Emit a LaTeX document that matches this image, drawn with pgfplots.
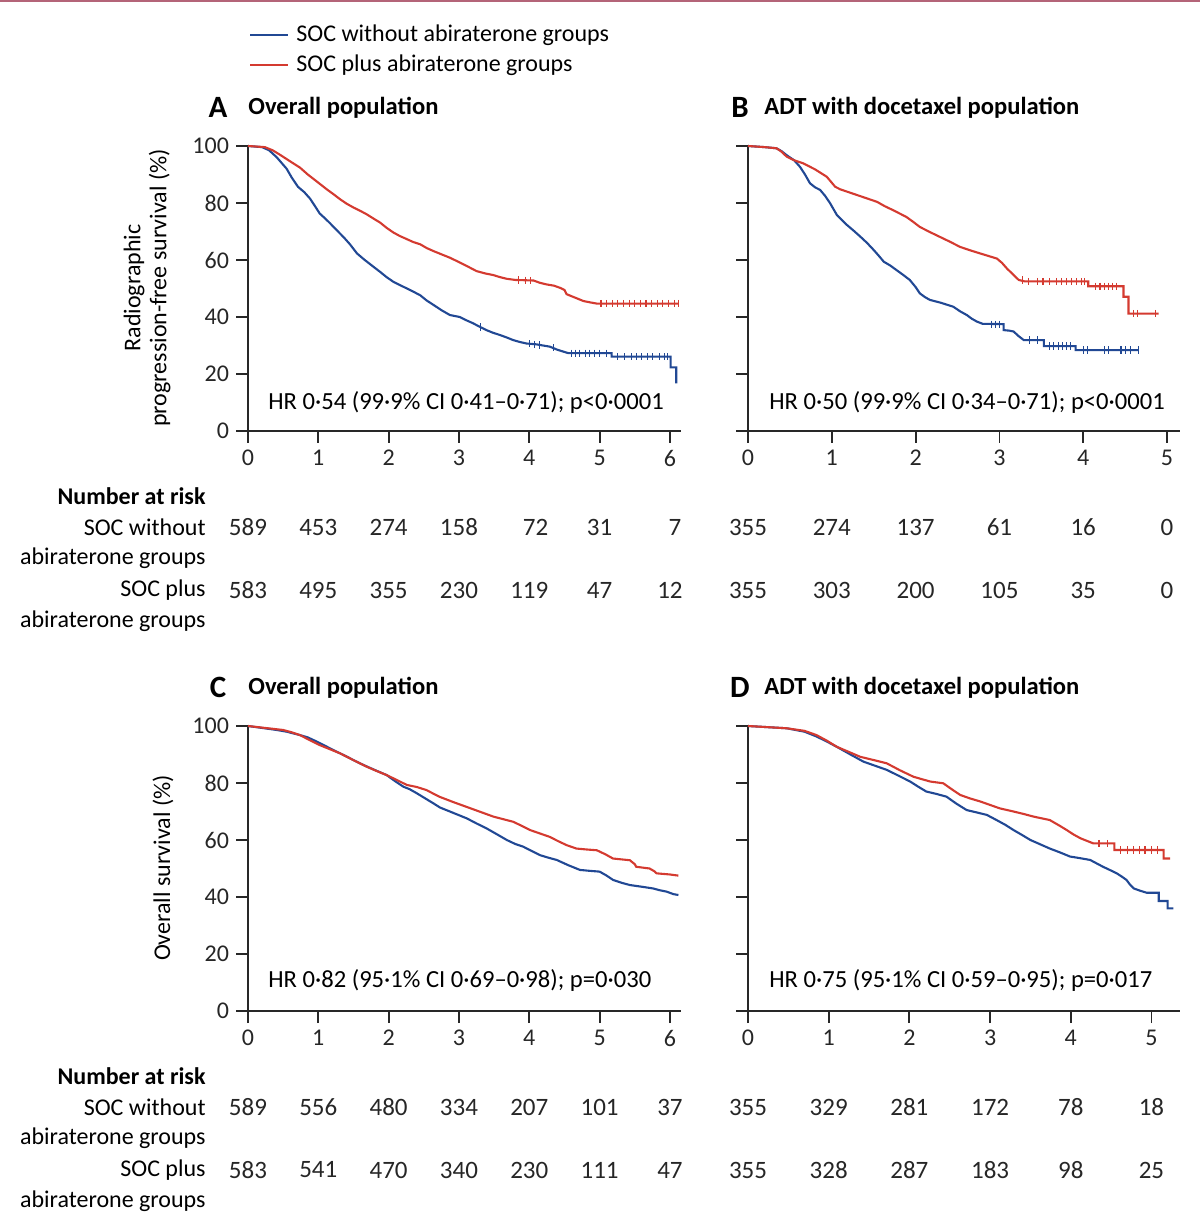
\documentclass[border=0pt]{standalone}
\usepackage{fontspec}
\setmainfont{Carlito}
\usepackage{pgfplots}
\pgfplotsset{compat=1.18}
\definecolor{kmblue}{RGB}{33,72,148}
\definecolor{kmred}{RGB}{212,58,48}
\definecolor{axc}{RGB}{40,40,40}
\definecolor{hdr}{RGB}{180,100,120}
\newcommand{\fs}{\fontsize{12}{14}\selectfont}
\newcommand{\fh}{\fontsize{12.3}{14}\selectfont}
\newcommand{\fr}{\fontsize{12.5}{14}\selectfont}
\newcommand{\fl}{\fontsize{12}{14}\selectfont}
\newcommand{\ft}{\fontsize{12.3}{14}\selectfont\bfseries}
\newcommand{\fL}{\fontsize{15.5}{17}\selectfont\bfseries}
\tikzset{rk/.style={font=\fr, text=black!85}}
\pgfplotsset{
 km/.style={scale only axis, height=142.5pt, anchor=south west, clip=false,
  axis x line*=bottom, axis y line*=left, ymin=0, ymax=100, ytick={0,20,40,60,80,100}, xmin=0,
  tick align=outside, major tick length=6pt,
  every tick/.append style={line width=0.9pt, axc},
  axis line style={line width=0.9pt, axc},
  tick label style={font=\fs, text=black!85},
  /pgf/number format/assume math mode=true,
  },
 bl/.style={kmblue, line width=1.05pt, no markers},
 rd/.style={kmred, line width=1.05pt, no markers},
 cb/.style={kmblue, only marks, mark=|, mark size=1.8pt, mark options={line width=0.55pt}},
 cr/.style={kmred, only marks, mark=|, mark size=1.8pt, mark options={line width=0.55pt}},
}
\begin{document}
\begin{tikzpicture}
\useasboundingbox (0,0) rectangle (600pt,613pt);
\draw[hdr, line width=1pt] (0,612.6pt) -- (600pt,612.6pt);
% legend
\draw[kmblue, line width=0.9pt] (125pt,595.5pt) -- (144pt,595.5pt);
\node[anchor=west, font=\fs, inner sep=0pt] at (148pt,595.5pt) {SOC without abiraterone groups};
\draw[kmred, line width=0.9pt] (125pt,580.5pt) -- (144pt,580.5pt);
\node[anchor=west, font=\fs, inner sep=0pt] at (148pt,580.5pt) {SOC plus abiraterone groups};
% titles
\node[font=\fL] at (109pt,559.5pt) {A};
\node[anchor=west, inner sep=0pt, font=\ft] at (124pt,559pt) {Overall population};
\node[font=\fL] at (370pt,559.5pt) {B};
\node[anchor=west, inner sep=0pt, font=\ft] at (382pt,559pt) {ADT with docetaxel population};
\node[font=\fL] at (109pt,269.5pt) {C};
\node[anchor=west, inner sep=0pt, font=\ft] at (124pt,269pt) {Overall population};
\node[font=\fL] at (370pt,269.5pt) {D};
\node[anchor=west, inner sep=0pt, font=\ft] at (382pt,269pt) {ADT with docetaxel population};
% y labels
\node[rotate=90, align=center, font=\fontsize{12}{13}\selectfont] at (73.5pt,469pt) {Radiographic\\progression-free survival (\%)};
\node[rotate=90, font=\fs] at (81.5pt,179pt) {Overall survival (\%)};
% number at risk labels
\foreach \yy in {0,290}{
 \node[anchor=east, inner sep=0pt, font=\fl\bfseries] at (103pt,365pt-\yy pt) {Number at risk};
 \node[anchor=east, inner sep=0pt, font=\fl] at (103pt,349.5pt-\yy pt) {SOC without};
 \node[anchor=east, inner sep=0pt, font=\fl] at (103pt,334pt-\yy pt) {abiraterone groups};
 \node[anchor=east, inner sep=0pt, font=\fl] at (103pt,318pt-\yy pt) {SOC plus};
 \node[anchor=east, inner sep=0pt, font=\fl] at (103pt,302.5pt-\yy pt) {abiraterone groups};
}
% HR texts
\node[anchor=west, inner sep=0pt, font=\fh] at (134pt,412pt) {HR 0·54 (99·9\% CI 0·41–0·71); p<0·0001};
\node[anchor=west, inner sep=0pt, font=\fh] at (384.5pt,412pt) {HR 0·50 (99·9\% CI 0·34–0·71); p<0·0001};
\node[anchor=west, inner sep=0pt, font=\fh] at (134pt,123pt) {HR 0·82 (95·1\% CI 0·69–0·98); p=0·030};
\node[anchor=west, inner sep=0pt, font=\fh] at (384.5pt,123pt) {HR 0·75 (95·1\% CI 0·59–0·95); p=0·017};

% ---------------- Panel A
\begin{axis}[km, at={(124pt,397.5pt)}, width=216.25pt, xmax=6.15, xtick={0,...,6}]
\addplot[bl] table {
0 100
0.20 99.6
0.30 98.5
0.41 96
0.48 94
0.55 92
0.62 89
0.71 85.7
0.80 83.8
0.88 81.6
0.95 79
1.02 76.3
1.10 74.5
1.17 72.8
1.26 70.5
1.36 68
1.45 65.5
1.55 62.3
1.66 60
1.78 57.7
1.88 55.8
1.97 54
2.07 52.3
2.16 51.2
2.26 50
2.35 48.9
2.45 47.6
2.54 45.8
2.64 44.2
2.75 42.4
2.87 40.7
3.01 40
3.10 38.9
3.20 37.8
3.30 36.5
3.39 35.4
3.48 34.5
3.58 33.7
3.68 32.8
3.77 31.9
3.87 31.2
3.96 30.7
4.10 30.4
4.29 29.6
4.40 28.5
4.53 27.5
4.56 27.3
5.17 27.3
5.17 26.1
6.01 26.1
6.01 22.3
6.09 22.3
6.09 16.7
};
\addplot[cb] table {
3.30 36.5
4.00 30.6
4.08 30.4
4.15 30.2
4.35 29.2
4.60 27.3
4.66 27.3
4.72 27.3
4.80 27.3
4.86 27.3
4.93 27.3
5.00 27.3
5.10 27.3
5.25 26.1
5.36 26.1
5.45 26.1
5.52 26.1
5.60 26.1
5.68 26.1
5.75 26.1
5.85 26.1
5.92 26.1
5.97 26.1
};
\addplot[rd] table {
0 100
0.24 99.6
0.35 98.5
0.45 97
0.60 94.6
0.74 92.4
0.85 90
0.97 87.7
1.12 84.8
1.22 83
1.31 81.3
1.40 79.8
1.50 78.4
1.60 77.2
1.69 76
1.78 74.6
1.88 73.1
1.97 71.3
2.07 69.6
2.16 68.4
2.26 67.3
2.35 66.3
2.45 65.5
2.54 64.2
2.64 63.1
2.75 62
2.87 60.8
2.98 59.5
3.11 57.9
3.25 56.1
3.37 55.3
3.49 54.7
3.58 54
3.68 53.4
3.80 53
4.06 52.8
4.15 52
4.25 51.4
4.35 51
4.44 50.2
4.50 49.5
4.53 48
4.65 46.8
4.77 45.6
4.85 45.2
4.96 44.7
6.12 44.7
};
\addplot[cr] table {
3.85 53
3.95 52.9
4.02 52.8
5.02 44.7
5.10 44.7
5.18 44.7
5.26 44.7
5.34 44.7
5.42 44.7
5.50 44.7
5.58 44.7
5.66 44.7
5.74 44.7
5.82 44.7
5.90 44.7
5.98 44.7
6.06 44.7
6.12 44.7
};
\node[rk] at (axis cs:0,-33.7) {589};
\node[rk] at (axis cs:1,-33.7) {453};
\node[rk] at (axis cs:2,-33.7) {274};
\node[rk] at (axis cs:3,-33.7) {158};
\node[rk] at (axis cs:4.09,-33.7) {72};
\node[rk] at (axis cs:5,-33.7) {31};
\node[rk] at (axis cs:6.07,-33.7) {7};
\node[rk] at (axis cs:0,-55.8) {583};
\node[rk] at (axis cs:1,-55.8) {495};
\node[rk] at (axis cs:2,-55.8) {355};
\node[rk] at (axis cs:3,-55.8) {230};
\node[rk] at (axis cs:4,-55.8) {119};
\node[rk] at (axis cs:5,-55.8) {47};
\node[rk] at (axis cs:6,-55.8) {12};
\end{axis}

% ---------------- Panel B
\begin{axis}[km, at={(374pt,397.5pt)}, width=215.8pt, xmax=5.15, xtick={0,...,5}, yticklabels={}]
\addplot[bl] table {
0 100
0.20 99.6
0.34 99.2
0.40 98.2
0.46 96.8
0.55 95
0.62 92.7
0.68 90
0.74 86.9
0.80 85.5
0.86 84.6
0.92 82.5
0.98 79.9
1.06 75.8
1.12 74
1.18 72.3
1.26 70.3
1.34 68.2
1.42 66
1.50 63.5
1.56 61.5
1.62 59.4
1.70 58
1.77 56.5
1.85 54.8
1.93 53
2.00 50.5
2.05 48.3
2.11 47
2.17 46
2.30 45
2.45 43.6
2.53 42
2.61 40.7
2.67 39.4
2.73 38.4
2.80 37.6
3.05 37.5
3.05 35.4
3.12 35.2
3.17 34.9
3.22 33.5
3.29 31.9
3.53 31.9
3.53 29.8
3.91 29.8
3.91 28.4
4.66 28.4
};
\addplot[cb] table {
2.90 37.5
2.95 37.5
3.00 37.5
3.36 31.9
3.45 31.9
3.60 29.8
3.65 29.8
3.70 29.8
3.75 29.8
3.80 29.8
3.85 29.8
4.00 28.4
4.05 28.4
4.25 28.4
4.30 28.4
4.45 28.4
4.50 28.4
4.56 28.4
4.66 28.4
};
\addplot[rd] table {
0 100
0.20 99.6
0.34 99.2
0.40 98
0.46 96.3
0.55 95
0.66 93.9
0.80 91.8
0.94 89.2
1.04 85.7
1.10 84.8
1.18 84
1.30 82.8
1.42 81.6
1.54 80.4
1.63 78.9
1.73 77.5
1.81 76.3
1.89 75.1
1.97 73.4
2.05 71.6
2.17 69.8
2.29 68.1
2.41 66.4
2.53 64.6
2.65 63.4
2.77 62.3
2.87 61.4
2.97 60.5
3.03 59
3.09 57
3.16 55
3.23 53
3.30 52.5
4.06 52.5
4.06 50.8
4.48 50.8
4.48 47.1
4.54 47.1
4.54 41.2
4.90 41.2
};
\addplot[cr] table {
3.27 53
3.35 52.5
3.45 52.5
3.52 52.5
3.60 52.5
3.68 52.5
3.74 52.5
3.80 52.5
3.86 52.5
3.92 52.5
3.98 52.5
4.02 52.5
4.15 50.8
4.20 50.8
4.25 50.8
4.30 50.8
4.35 50.8
4.40 50.8
4.60 41.2
4.65 41.2
4.86 41.2
};
\node[rk] at (axis cs:0,-33.7) {355};
\node[rk] at (axis cs:1,-33.7) {274};
\node[rk] at (axis cs:2,-33.7) {137};
\node[rk] at (axis cs:3,-33.7) {61};
\node[rk] at (axis cs:4,-33.7) {16};
\node[rk] at (axis cs:5,-33.7) {0};
\node[rk] at (axis cs:0,-55.8) {355};
\node[rk] at (axis cs:1,-55.8) {303};
\node[rk] at (axis cs:2,-55.8) {200};
\node[rk] at (axis cs:3,-55.8) {105};
\node[rk] at (axis cs:4,-55.8) {35};
\node[rk] at (axis cs:5,-55.8) {0};
\end{axis}

% ---------------- Panel C
\begin{axis}[km, at={(124pt,107.5pt)}, width=216.25pt, xmax=6.15, xtick={0,...,6}]
\addplot[bl] table {
0 100
0.41 98.6
0.55 98
0.74 96.8
0.85 96
0.98 94.5
1.10 93
1.21 91.6
1.40 89.3
1.59 86.9
1.78 84.8
1.97 82.8
2.10 80.5
2.21 78.7
2.30 77.8
2.40 76.4
2.52 74.6
2.64 72.8
2.73 71.4
2.82 70.5
2.97 69
3.11 67.6
3.25 65.8
3.39 64.1
3.54 62
3.68 60
3.80 58.6
3.91 57.7
4.03 56.2
4.15 54.7
4.27 53.8
4.39 53
4.55 51.2
4.72 49.5
4.85 49.2
5.00 48.9
5.10 47.5
5.19 46
5.31 45
5.43 44.2
5.60 43.6
5.76 43
5.85 42.4
5.95 41.9
6.05 41
6.12 40.7
};
\addplot[rd] table {
0 100
0.50 98.6
0.62 97.8
0.74 96.8
0.88 95
1.02 93.3
1.16 91.9
1.31 90.4
1.50 88
1.69 85.7
1.83 84.2
1.97 82.8
2.12 81
2.26 79.3
2.40 78.6
2.54 77.5
2.64 76.2
2.73 75.1
2.92 73.3
3.11 71.6
3.30 69.9
3.49 68.2
3.63 67.3
3.77 66.4
3.89 65
4.01 63.5
4.15 62.3
4.29 61.1
4.41 59.6
4.53 58.2
4.67 57
4.80 56.7
4.96 56.4
5.08 55
5.19 53.5
5.43 52.9
5.50 51.5
5.52 50.6
5.71 50
5.78 49
5.81 48.3
6.00 47.9
6.12 47.5
};
\node[rk] at (axis cs:0,-33.7) {589};
\node[rk] at (axis cs:1,-33.7) {556};
\node[rk] at (axis cs:2,-33.7) {480};
\node[rk] at (axis cs:3,-33.7) {334};
\node[rk] at (axis cs:4,-33.7) {207};
\node[rk] at (axis cs:5,-33.7) {101};
\node[rk] at (axis cs:6,-33.7) {37};
\node[rk] at (axis cs:0,-55.8) {583};
\node[rk] at (axis cs:1,-55.8) {541};
\node[rk] at (axis cs:2,-55.8) {470};
\node[rk] at (axis cs:3,-55.8) {340};
\node[rk] at (axis cs:4,-55.8) {230};
\node[rk] at (axis cs:5,-55.8) {111};
\node[rk] at (axis cs:6,-55.8) {47};
\end{axis}

% ---------------- Panel D
\begin{axis}[km, at={(374pt,107.5pt)}, width=215.85pt, xmax=5.35, xtick={0,...,5}, yticklabels={}]
\addplot[bl] table {
0 100
0.48 99.2
0.70 98
0.85 96.3
0.98 94.5
1.10 92.7
1.27 90
1.43 87.5
1.58 86
1.72 84.6
1.87 82.5
2.01 80.5
2.11 78.7
2.21 77
2.33 76.2
2.46 75.2
2.58 72.8
2.71 70.5
2.83 69.7
2.96 68.8
3.08 67
3.19 65.3
3.29 63.5
3.40 61.7
3.50 60
3.62 58.5
3.74 57
3.87 55.6
3.99 54.2
4.12 53.6
4.24 53
4.32 51.8
4.40 50.6
4.49 49.4
4.57 48.3
4.63 47.2
4.69 46
4.73 44.5
4.78 43
4.86 42.2
4.94 41.5
5.09 41.5
5.09 38.6
5.20 38.6
5.20 36
5.27 36
};
\addplot[rd] table {
0 100
0.48 99.2
0.70 98.3
0.85 96.8
0.98 94.8
1.10 92.7
1.25 90.9
1.39 89.2
1.55 88.1
1.72 86.9
1.88 84.5
2.05 82.2
2.16 81.3
2.26 80.5
2.42 79.9
2.52 77.9
2.63 75.8
2.75 74.6
2.88 73.5
3.00 72.3
3.12 71.1
3.29 70
3.42 69.1
3.54 68.2
3.64 67.6
3.74 67
3.85 65.2
3.95 63.5
4.03 62
4.12 60.6
4.20 59.7
4.28 58.8
4.54 58.8
4.54 56.5
5.15 56.5
5.15 53.5
5.23 53.5
};
\addplot[cr] table {
4.35 58.8
4.45 58.8
4.62 56.5
4.70 56.5
4.78 56.5
4.85 56.5
4.92 56.5
5.00 56.5
5.07 56.5
};
\node[rk] at (axis cs:0,-33.7) {355};
\node[rk] at (axis cs:1,-33.7) {329};
\node[rk] at (axis cs:2,-33.7) {281};
\node[rk] at (axis cs:3,-33.7) {172};
\node[rk] at (axis cs:4,-33.7) {78};
\node[rk] at (axis cs:5,-33.7) {18};
\node[rk] at (axis cs:0,-55.8) {355};
\node[rk] at (axis cs:1,-55.8) {328};
\node[rk] at (axis cs:2,-55.8) {287};
\node[rk] at (axis cs:3,-55.8) {183};
\node[rk] at (axis cs:4,-55.8) {98};
\node[rk] at (axis cs:5,-55.8) {25};
\end{axis}
\end{tikzpicture}
\end{document}
